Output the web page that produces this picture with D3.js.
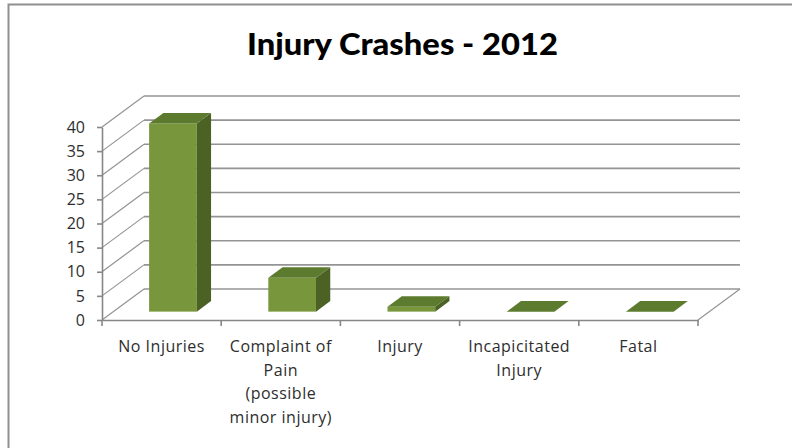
<!DOCTYPE html>
<html>
<head>
<meta charset="utf-8">
<script src="https://cdn.jsdelivr.net/npm/d3@7"></script>
<style>
  html, body { margin: 0; padding: 0; background: #ffffff; }
  svg { display: block; }
</style>
</head>
<body>
<script>
// ---- Data ----
const title = "Injury Crashes - 2012";
const categories = ["No Injuries", "Complaint of Pain (possible minor injury)", "Injury", "Incapicitated Injury", "Fatal"];
const categoryLines = [["No Injuries"], ["Complaint of", "Pain", "(possible", "minor injury)"], ["Injury"], ["Incapicitated", "Injury"], ["Fatal"]];
const values = [39, 7, 1, 0, 0];
const yTicks = [0, 5, 10, 15, 20, 25, 30, 35, 40];

// ---- Layout ----
const W = 792, H = 448;
const DX = 42, DY = -31;          // depth offset of back wall
const T0 = 0.27, T1 = 0.61;       // bar depth range (fraction of depth)
const colors = { front: "#78973c", top: "#5c7b2e", side: "#4b6224", grid: "#949494", axis: "#878787", text: "#2e2e2e" };
const font = "'Open Sans', 'DejaVu Sans', sans-serif";

const svg = d3.select("body").append("svg").attr("width", W).attr("height", H);

const x = d3.scaleBand().domain(categories).range([102, 698]);
const y = d3.scaleLinear().domain([0, 40]).range([320, 127]);
const x0 = x.range()[0], x1 = x.range()[1];

// border (left + top visible)
svg.append("path").attr("d", `M8.5,${H}V4.5H${W}`).attr("fill", "none")
  .attr("stroke", "#8f8f8f").attr("stroke-width", 2);

// title
svg.append("text").attr("x", 402.5).attr("y", 55).attr("text-anchor", "middle")
  .attr("font-family", "Lato, 'Open Sans', sans-serif").attr("font-weight", "900")
  .attr("font-size", 30).attr("fill", "#000")
  .attr("textLength", 311).attr("lengthAdjust", "spacingAndGlyphs")
  .text(title);

const g = svg.append("g");

// back-wall gridlines
g.selectAll("line.grid").data(yTicks).join("line").attr("class", "grid")
  .attr("x1", x0 + DX).attr("x2", x1 + DX)
  .attr("y1", d => y(d) + DY).attr("y2", d => y(d) + DY)
  .attr("stroke", colors.grid).attr("stroke-width", 1.6);

// side-wall diagonals
g.selectAll("line.diag").data(yTicks).join("line").attr("class", "diag")
  .attr("x1", x0).attr("x2", x0 + DX)
  .attr("y1", d => y(d)).attr("y2", d => y(d) + DY)
  .attr("stroke", colors.grid).attr("stroke-width", 1.2);

// floor right edge
g.append("line").attr("x1", x1).attr("y1", y(0)).attr("x2", x1 + DX).attr("y2", y(0) + DY)
  .attr("stroke", colors.grid).attr("stroke-width", 1.2);

// bars
const bw = x.bandwidth() * 0.4;
const ddx = DX * (T1 - T0), ddy = DY * (T1 - T0);
const bars = g.selectAll("g.bar").data(categories.map((c, i) => ({ c, v: values[i] }))).join("g").attr("class", "bar");
bars.each(function (d) {
  const sel = d3.select(this);
  const bx = x(d.c) + (x.bandwidth() - bw) / 2 + DX * T0;
  const bot = y(0) + DY * T0;
  const top = y(d.v) + DY * T0;
  if (d.v > 0) {
    sel.append("rect").attr("x", bx).attr("y", top).attr("width", bw).attr("height", bot - top)
      .attr("fill", colors.front);
    sel.append("path").attr("d", `M${bx + bw},${top}L${bx + bw + ddx},${top + ddy}L${bx + bw + ddx},${bot + ddy}L${bx + bw},${bot}Z`)
      .attr("fill", colors.side);
  }
  sel.append("path").attr("d", `M${bx},${top}L${bx + bw},${top}L${bx + bw + ddx},${top + ddy}L${bx + ddx},${top + ddy}Z`)
    .attr("fill", colors.top);
});

// y axis
const yAxis = d3.axisLeft(y).tickValues(yTicks).tickSize(5).tickSizeOuter(0).tickPadding(12);
const ya = svg.append("g").attr("transform", `translate(${x0},0)`).call(yAxis);
ya.select(".domain").attr("stroke", colors.axis).attr("stroke-width", 1.6);
ya.selectAll(".tick line").attr("stroke", colors.axis).attr("stroke-width", 1.6);
ya.selectAll(".tick text").attr("font-family", font).attr("font-size", 16).attr("fill", colors.text);

// x axis (front floor edge) with ticks at category boundaries
const xAxis = d3.axisBottom(x).tickSize(0).tickSizeOuter(0).tickFormat("");
const xa = svg.append("g").attr("transform", `translate(0,${y(0)})`).call(xAxis);
xa.select(".domain").attr("stroke", colors.axis).attr("stroke-width", 1.6);
const bounds = categories.map(c => x(c)).concat([x1]);
xa.selectAll("line.bound").data(bounds).join("line").attr("class", "bound")
  .attr("x1", d => d).attr("x2", d => d).attr("y1", 0).attr("y2", 6)
  .attr("stroke", colors.axis).attr("stroke-width", 1.6);

// category labels
const labels = svg.append("g").selectAll("text").data(categories).join("text")
  .attr("text-anchor", "middle").attr("font-family", font).attr("font-size", 16)
  .attr("letter-spacing", 0.5).attr("fill", colors.text)
  .attr("x", d => x(d) + x.bandwidth() / 2).attr("y", 351);
labels.each(function (d, i) {
  const t = d3.select(this);
  categoryLines[i].forEach((line, j) => {
    t.append("tspan").attr("x", x(d) + x.bandwidth() / 2).attr("y", 352 + j * 23.5).text(line);
  });
});
</script>
</body>
</html>
